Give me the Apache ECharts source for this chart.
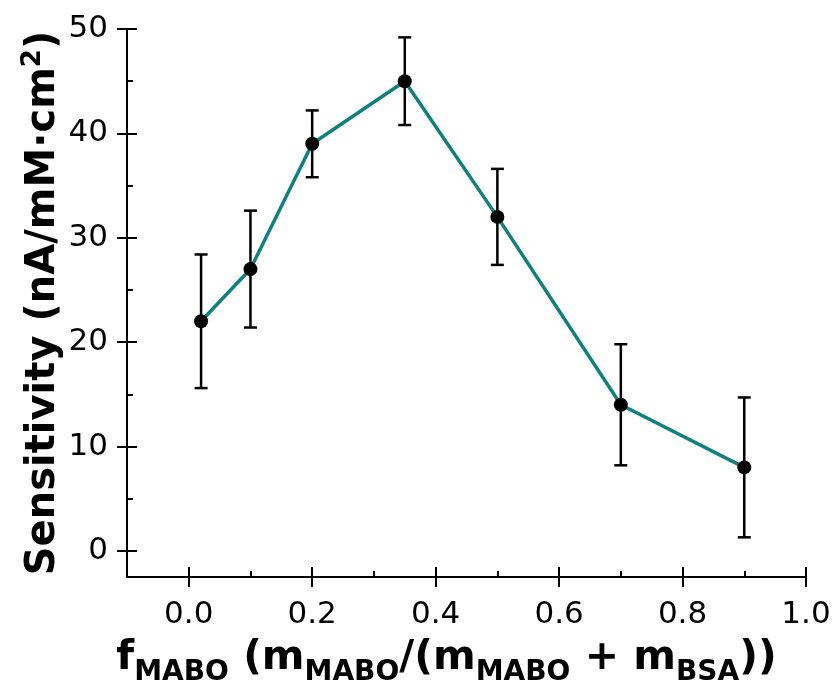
<!DOCTYPE html>
<html>
<head>
<meta charset="utf-8">
<title>Sensitivity vs f_MABO</title>
<script src="https://cdn.jsdelivr.net/npm/echarts@6/dist/echarts.min.js"></script>
<style>
  html, body { margin: 0; padding: 0; background: #ffffff; }
  #chart { width: 833px; height: 692px; }
</style>
</head>
<body>
<div id="chart"></div>
<script>
// Mass fraction of MABO in the MABO/BSA mixture
const fractionMABO = [0.02, 0.1, 0.2, 0.35, 0.5, 0.7, 0.9];
// Sensitivity (nA/mM·cm²) and its standard deviation
const sensitivity = [22, 27, 39, 45, 32, 14, 8];
const sensitivityErr = [6.4, 5.6, 3.2, 4.2, 4.6, 5.8, 6.7];

// Axis ticks
const xMajorTicks = [0.0, 0.2, 0.4, 0.6, 0.8, 1.0];
const xMinorTicks = [0.1, 0.3, 0.5, 0.7, 0.9];
const yMajorTicks = [0, 10, 20, 30, 40, 50];
const yMinorTicks = [5, 15, 25, 35, 45];

const FONT = 'DejaVu Sans';
const LINE_COLOR = '#0f7f7f';

const linePoints = fractionMABO.map((x, i) => [x, sensitivity[i]]);
const errorData = fractionMABO.map((x, i) => [x, sensitivity[i] - sensitivityErr[i], sensitivity[i] + sensitivityErr[i]]);

const X_MIN = -0.1, X_MAX = 1.0;
const Y_MIN = -2.5, Y_MAX = 50;

// Extra axes used only to draw inward ticks (major ones cross the axis line)
function tickAxis(kind, values, length) {
  return {
    type: 'value',
    min: kind === 'x' ? X_MIN : Y_MIN,
    max: kind === 'x' ? X_MAX : Y_MAX,
    position: kind === 'x' ? 'bottom' : 'left',
    axisLine: { show: false, onZero: false },
    axisLabel: { show: false },
    splitLine: { show: false },
    axisTick: {
      show: true,
      inside: true,
      length: length,
      customValues: values,
      lineStyle: { color: '#000', width: 2 }
    }
  };
}

const chart = echarts.init(document.getElementById('chart'), null, { renderer: 'canvas' });

chart.setOption({
  backgroundColor: '#ffffff',
  animation: false,
  grid: { left: 127, right: 27, top: 29, bottom: 115, containLabel: false, outerBoundsMode: 'none' },
  xAxis: [
    {
      type: 'value',
      min: X_MIN,
      max: X_MAX,
      position: 'bottom',
      axisLine: { show: true, onZero: false, lineStyle: { color: '#000', width: 2 } },
      axisTick: { show: true, inside: false, length: 10, customValues: xMajorTicks, lineStyle: { color: '#000', width: 2 } },
      axisLabel: {
        customValues: xMajorTicks,
        formatter: v => v.toFixed(1),
        color: '#000',
        fontFamily: FONT,
        fontSize: 31,
        margin: 22
      },
      splitLine: { show: false },
      name: '{b|f}{s|MABO}{b| (m}{s|MABO}{b|/(m}{s|MABO}{b| + m}{s|BSA}{b|))}',
      nameLocation: 'middle',
      nameGap: 52,
      nameMoveOverlap: false,
      nameTextStyle: {
        padding: [0, 40, 0, 0],
        rich: {
          b: { fontFamily: FONT, fontWeight: 'bold', fontSize: 41, lineHeight: 58, color: '#000', verticalAlign: 'middle' },
          s: { fontFamily: FONT, fontWeight: 'bold', fontSize: 28, lineHeight: 27, color: '#000', verticalAlign: 'bottom' }
        }
      }
    },
    tickAxis('x', xMajorTicks, 10),
    tickAxis('x', xMinorTicks, 6)
  ],
  yAxis: [
    {
      type: 'value',
      min: Y_MIN,
      max: Y_MAX,
      position: 'left',
      axisLine: { show: true, onZero: false, lineStyle: { color: '#000', width: 2 } },
      axisTick: { show: true, inside: false, length: 10, customValues: yMajorTicks, lineStyle: { color: '#000', width: 2 } },
      axisLabel: {
        customValues: yMajorTicks,
        color: '#000',
        fontFamily: FONT,
        fontSize: 31,
        margin: 19
      },
      splitLine: { show: false },
      name: '{b|Sensitivity (nA/mM·cm}{p|2}{b|)}',
      nameLocation: 'middle',
      nameGap: 59,
      nameMoveOverlap: false,
      nameTextStyle: {
        rich: {
          b: { fontFamily: FONT, fontWeight: 'bold', fontSize: 40, lineHeight: 48, color: '#000', verticalAlign: 'middle' },
          p: { fontFamily: FONT, fontWeight: 'bold', fontSize: 26, lineHeight: 26, color: '#000', verticalAlign: 'top' }
        }
      }
    },
    tickAxis('y', yMajorTicks, 10),
    tickAxis('y', yMinorTicks, 6)
  ],
  series: [
    {
      name: 'Sensitivity',
      type: 'line',
      xAxisIndex: 0,
      yAxisIndex: 0,
      data: linePoints,
      symbol: 'none',
      lineStyle: { color: LINE_COLOR, width: 3.5 },
      z: 2
    },
    {
      name: 'Error',
      type: 'custom',
      xAxisIndex: 0,
      yAxisIndex: 0,
      data: errorData,
      encode: { x: 0, y: [1, 2] },
      z: 3,
      renderItem: function (params, api) {
        const x = api.value(0);
        const lo = api.coord([x, api.value(1)]);
        const hi = api.coord([x, api.value(2)]);
        const half = 6.5;
        const style = { stroke: '#000', lineWidth: 2.5, fill: null };
        return {
          type: 'group',
          children: [
            { type: 'line', shape: { x1: hi[0], y1: hi[1], x2: lo[0], y2: lo[1] }, style: style },
            { type: 'line', shape: { x1: hi[0] - half, y1: hi[1], x2: hi[0] + half, y2: hi[1] }, style: style },
            { type: 'line', shape: { x1: lo[0] - half, y1: lo[1], x2: lo[0] + half, y2: lo[1] }, style: style }
          ]
        };
      }
    },
    {
      name: 'Points',
      type: 'scatter',
      xAxisIndex: 0,
      yAxisIndex: 0,
      data: linePoints,
      symbol: 'circle',
      symbolSize: 14,
      itemStyle: { color: '#000', opacity: 1 },
      z: 4
    }
  ]
});
</script>
</body>
</html>
